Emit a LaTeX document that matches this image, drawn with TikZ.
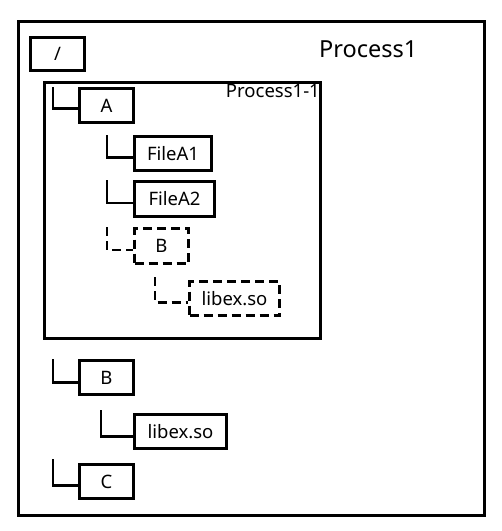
\documentclass[tikz,border=0pt]{standalone}
\usepackage{fontspec}
\setmainfont{Noto Sans}
\begin{document}
\begin{tikzpicture}[x=1pt,y=-1pt,
  box/.style={draw,line width=3pt,inner sep=0pt,minimum height=34pt,font=\fontsize{18.5}{22}\selectfont},
  dbox/.style={box,dash pattern=on 9pt off 5pt},
  link/.style={draw,line width=2.5pt},
  dlink/.style={link,dash pattern=on 9pt off 5pt},
  frame/.style={draw,line width=3pt}]
\useasboundingbox (0,0) rectangle (502,531);
\draw[frame] (18.5,21.5) rectangle (484.5,515.5);
\draw[frame] (44.5,82.5) rectangle (320.5,338.5);
\node[anchor=base west,inner sep=0pt,font=\fontsize{23.5}{26}\selectfont] (p1) at (319,57) {Process1};
\node[anchor=base east,inner sep=0pt,font=\fontsize{18.5}{20}\selectfont] (p11) at (320,97) {Process1-1};
\node[box,minimum width=54pt,minimum height=33pt] (root) at (57.5,54) {/};
\node[box,minimum width=54pt] (A) at (106.5,105.5) {A};
\node[box,minimum width=77pt] (fa1) at (173,153.5) {FileA1};
\node[box,minimum width=80pt,minimum height=35pt] (fa2) at (174.5,199) {FileA2};
\node[dbox,minimum width=54pt,minimum height=35pt] (bd) at (161.5,246) {B};
\node[dbox,minimum width=90pt] (libd) at (234.5,298.5) {libex.so};
\node[box,minimum width=54pt] (B) at (106.5,377.5) {B};
\node[box,minimum width=92pt] (lib) at (180.5,431.5) {libex.so};
\node[box,minimum width=54pt] (C) at (106.5,481.5) {C};
\draw[link] ([xshift=-25pt]A.north west) |- ([yshift=-3pt]A.west);
\draw[link] ([xshift=-26pt]fa1.north west) |- ([yshift=-4pt]fa1.west);
\draw[link] ([xshift=-26pt]fa2.north west) |- ([yshift=-4pt]fa2.west);
\draw[dlink] ([xshift=-26pt]bd.north west) |- ([yshift=-4pt]bd.west);
\draw[dlink] ([xshift=-33pt,yshift=3pt]libd.north west) |- ([yshift=-4pt]libd.west);
\draw[link] ([xshift=-25pt]B.north west) |- ([yshift=-5pt]B.west);
\draw[link] ([xshift=-32pt,yshift=3pt]lib.north west) |- ([yshift=-5pt]lib.west);
\draw[link] ([xshift=-25pt,yshift=4pt]C.north west) |- ([yshift=-4pt]C.west);
\end{tikzpicture}
\end{document}
